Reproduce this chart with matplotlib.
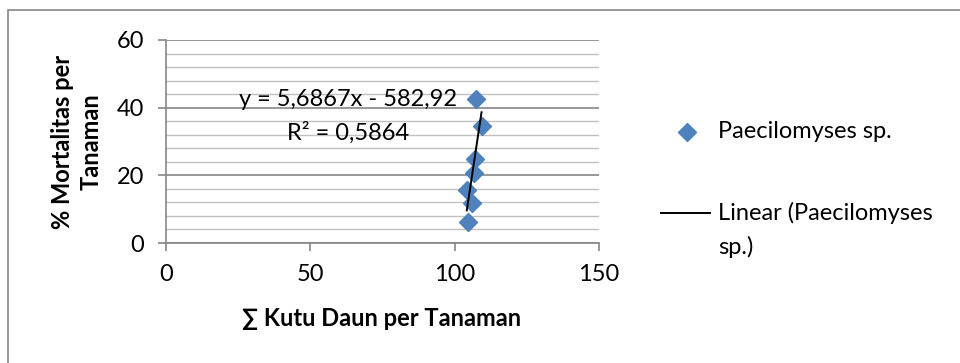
import matplotlib
matplotlib.use("Agg")
import matplotlib.pyplot as plt
from matplotlib.lines import Line2D
from matplotlib.patches import Rectangle
import numpy as np

# data
x_vals = [107.4, 109.3, 107.0, 106.7, 104.2, 105.9, 104.7]
y_vals = [42.5, 34.6, 24.7, 20.6, 15.7, 11.9, 6.2]
slope = 5.6867
intercept = -582.92
r2_text = "R² = 0,5864"
eq_text = "y = 5,6867x - 582,92"
x_ticks = [0, 50, 100, 150]
y_ticks = [0, 20, 40, 60]
series_name = "Paecilomyses sp."
trend_name = "Linear (Paecilomyses\nsp.)"
x_label = "∑ Kutu Daun per Tanaman"
y_label = "% Mortalitas per\nTanaman"

W, H = 960, 363
DPI = 100
plt.rcParams['font.family'] = ['Lato', 'DejaVu Sans']
FS = 17
BLUE = '#4F81BD'
GRID_MAJ = '#868686'
GRID_MIN = '#C0C0C0'

fig = plt.figure(figsize=(W / DPI, H / DPI), dpi=DPI)

def fx(px):
    return px / W

def fy(py):
    return 1 - py / H

# outer border
fig.add_artist(Rectangle((fx(8), fy(400)), fx(1000), fy(10) - fy(400), transform=fig.transFigure,
                         fill=False, edgecolor=GRID_MAJ, linewidth=1.2))

ax = fig.add_axes([fx(166), fy(243), fx(599) - fx(166), fy(40) - fy(243)])
ax.set_xlim(0, 150)
ax.set_ylim(0, 60)
ax.set_xticks(x_ticks)
ax.set_yticks(y_ticks)
ax.set_xticklabels([str(v) for v in x_ticks], fontsize=FS)
ax.set_yticklabels([str(v) for v in y_ticks], fontsize=FS)
ax.set_yticks(np.arange(0, 61, 4), minor=True)
ax.tick_params(axis='both', which='major', direction='out', length=6, width=1.2, color=GRID_MAJ)
ax.tick_params(axis='x', which='major', pad=9)
ax.tick_params(axis='y', which='major', pad=10)
ax.tick_params(axis='y', which='minor', length=0)
ax.grid(True, axis='y', which='minor', color=GRID_MIN, linewidth=1.0)
ax.grid(True, axis='y', which='major', color=GRID_MAJ, linewidth=1.2)
ax.set_axisbelow(True)
for s in ['top', 'right']:
    ax.spines[s].set_visible(False)
for s in ['left', 'bottom']:
    ax.spines[s].set_color(GRID_MAJ)
    ax.spines[s].set_linewidth(1.2)

ax.plot(x_vals, y_vals, linestyle='none', marker='D', markersize=9.5,
        markerfacecolor=BLUE, markeredgecolor=BLUE, zorder=3, clip_on=False)
xt = np.array([min(x_vals), max(x_vals)])
ax.plot(xt, slope * xt + intercept, color='black', linewidth=1.4, zorder=4)

fig.text(fx(348), fy(100), eq_text, fontsize=FS, ha='center', va='center')
fig.text(fx(348), fy(133), r2_text, fontsize=FS, ha='center', va='center')

fig.text(fx(382), fy(319), x_label, fontsize=FS, fontweight='bold', ha='center', va='center')
fig.text(fx(77), fy(142), y_label, fontsize=FS, fontweight='bold', ha='center', va='center',
         rotation=90, multialignment='center', linespacing=1.3)

# legend
fig.add_artist(Line2D([fx(687)], [fy(132)], marker='D', markersize=9.5, color=BLUE,
                      linestyle='none', transform=fig.transFigure))
fig.text(fx(718), fy(132), series_name, fontsize=FS, ha='left', va='center')
fig.add_artist(Line2D([fx(661), fx(710)], [fy(213), fy(213)], color='black', linewidth=1.4,
                      transform=fig.transFigure))
fig.text(fx(718), fy(213), trend_name.split("\n")[0], fontsize=FS, ha='left', va='center')
fig.text(fx(718), fy(247), trend_name.split("\n")[1], fontsize=FS, ha='left', va='center')

fig.savefig("out.png", dpi=DPI)
